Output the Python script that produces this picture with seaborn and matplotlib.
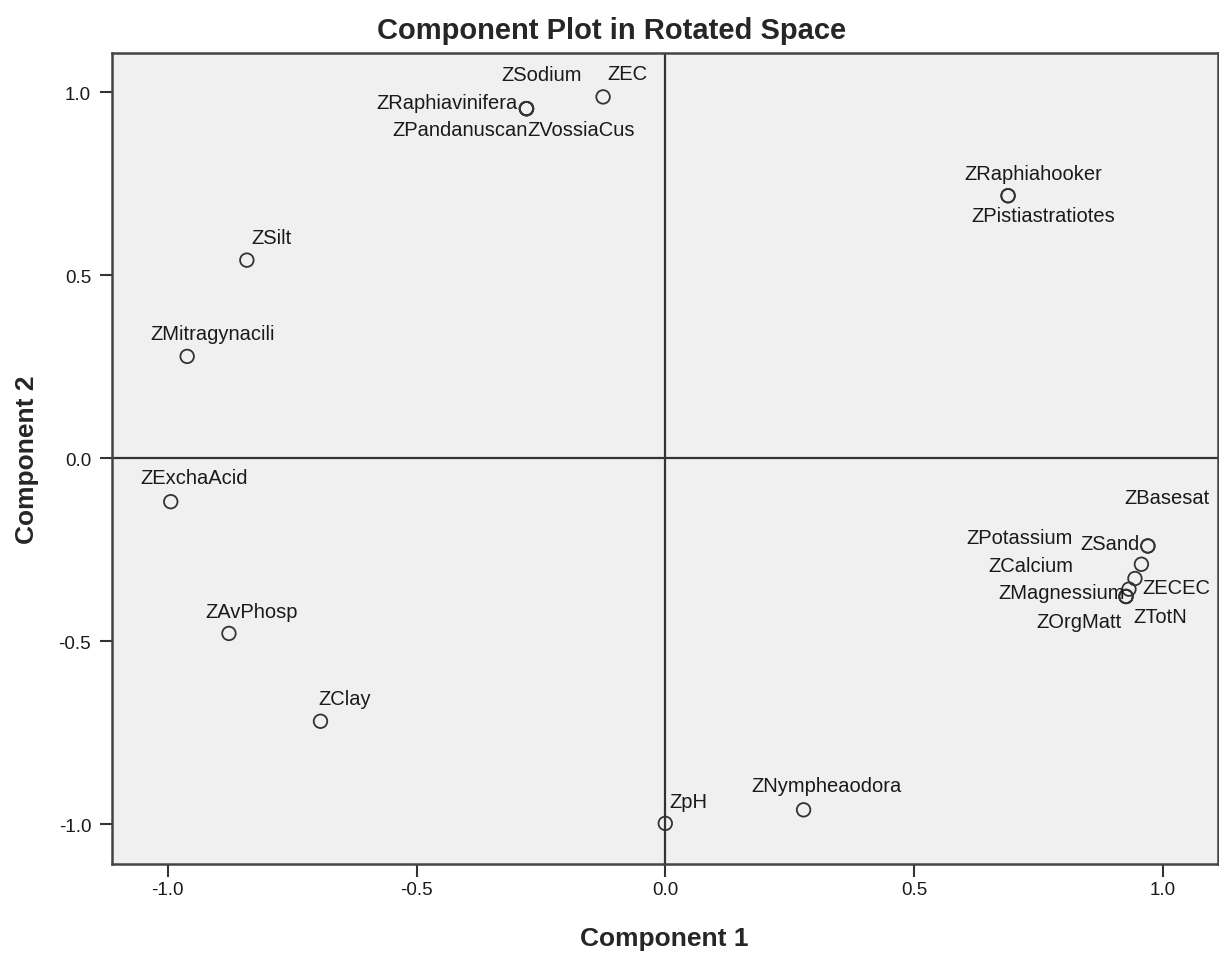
import numpy as np
import pandas as pd
import matplotlib
matplotlib.use("Agg")
import matplotlib.pyplot as plt
import seaborn as sns

# Rotated component loadings
labels = ['ZSodium', 'ZRaphiavinifera', 'ZPandanuscan', 'ZVossiaCus', 'ZEC',
          'ZRaphiahooker', 'ZPistiastratiotes', 'ZSilt', 'ZMitragynacili',
          'ZExchaAcid', 'ZAvPhosp', 'ZClay', 'ZpH', 'ZNympheaodora',
          'ZBasesat', 'ZSand', 'ZPotassium', 'ZCalcium', 'ZECEC',
          'ZMagnessium', 'ZOrgMatt', 'ZTotN']
comp1 = [-0.279, -0.279, -0.279, -0.279, -0.125,
         0.689, 0.689, -0.841, -0.961,
         -0.994, -0.877, -0.693, 0.000, 0.278,
         0.970, 0.970, 0.957, 0.944, 0.932,
         0.926, 0.926, 0.926]
comp2 = [0.955, 0.955, 0.955, 0.955, 0.987,
         0.717, 0.717, 0.541, 0.278,
         -0.119, -0.479, -0.719, -0.998, -0.961,
         -0.240, -0.240, -0.290, -0.329, -0.358,
         -0.378, -0.378, -0.378]
ticks = [-1.0, -0.5, 0.0, 0.5, 1.0]

df = pd.DataFrame({'label': labels, 'Component 1': comp1, 'Component 2': comp2})

# label placement: pixel offset from the point and horizontal alignment (style only)
offsets = {
    'ZSodium': (15, 34, 'center'), 'ZRaphiavinifera': (-9, 6, 'right'),
    'ZPandanuscan': (1, -21, 'right'), 'ZVossiaCus': (1, -21, 'left'),
    'ZEC': (24, 23, 'center'), 'ZRaphiahooker': (25, 22, 'center'),
    'ZPistiastratiotes': (35, -20, 'center'), 'ZSilt': (25, 23, 'center'),
    'ZMitragynacili': (25, 23, 'center'), 'ZExchaAcid': (23, 24, 'center'),
    'ZAvPhosp': (23, 22, 'center'), 'ZClay': (24, 23, 'center'),
    'ZpH': (23, 22, 'center'), 'ZNympheaodora': (23, 24, 'center'),
    'ZBasesat': (-23, 48, 'left'), 'ZSand': (-8, 2, 'right'),
    'ZPotassium': (-69, 27, 'right'), 'ZCalcium': (-62, 13, 'right'),
    'ZECEC': (13, 2, 'left'), 'ZMagnessium': (-1, 4, 'right'),
    'ZOrgMatt': (-4, -25, 'right'), 'ZTotN': (7, -20, 'left'),
}

sns.set_style('white')
plt.rcParams['font.family'] = ['Liberation Sans', 'DejaVu Sans']

fig = plt.figure(figsize=(12.19, 9.54), dpi=100)
ax = fig.add_axes([0.0919, 0.0933, 0.9073, 0.8501])
ax.set_facecolor('#f0f0f0')

# reference lines through the origin
ax.axhline(0, color='#333333', lw=1.6, zorder=1)
ax.axvline(0, color='#333333', lw=1.6, zorder=1)

sns.scatterplot(data=df, x='Component 1', y='Component 2', ax=ax,
                marker='o', s=95, facecolor='none', edgecolor='#333333',
                linewidth=1.3, zorder=3)

for lab, x, y in zip(labels, comp1, comp2):
    dx, dy, ha = offsets[lab]
    ax.annotate(lab, xy=(x, y), xytext=(dx, dy), textcoords='offset pixels',
                ha=ha, va='center', fontsize=14.5, color='#1a1a1a',
                annotation_clip=False, clip_on=True)

ax.set_xlim(-1.112, 1.111)
ax.set_ylim(-1.109, 1.107)
ax.set_xticks(ticks)
ax.set_yticks(ticks)
ax.set_xticklabels([f'{t:.1f}' for t in ticks])
ax.set_yticklabels([f'{t:.1f}' for t in ticks])
ax.tick_params(axis='both', direction='out', length=9, width=1.5,
               color='#333333', labelsize=13.5, labelcolor='#1a1a1a',
               bottom=True, left=True)
ax.tick_params(axis='x', pad=3)
ax.tick_params(axis='y', pad=6)

for sp in ax.spines.values():
    sp.set_color('#444444')
    sp.set_linewidth(1.8)

ax.set_xlabel('Component 1', fontsize=19, fontweight='bold')
ax.set_ylabel('Component 2', fontsize=19, fontweight='bold')
ax.xaxis.set_label_coords(0.4995, -0.077)
ax.yaxis.set_label_coords(-0.066, 0.5)
fig.text(0.502, 0.968, 'Component Plot in Rotated Space', ha='center',
         va='center', fontsize=21, fontweight='bold')

fig.savefig('out.png', dpi=100)
